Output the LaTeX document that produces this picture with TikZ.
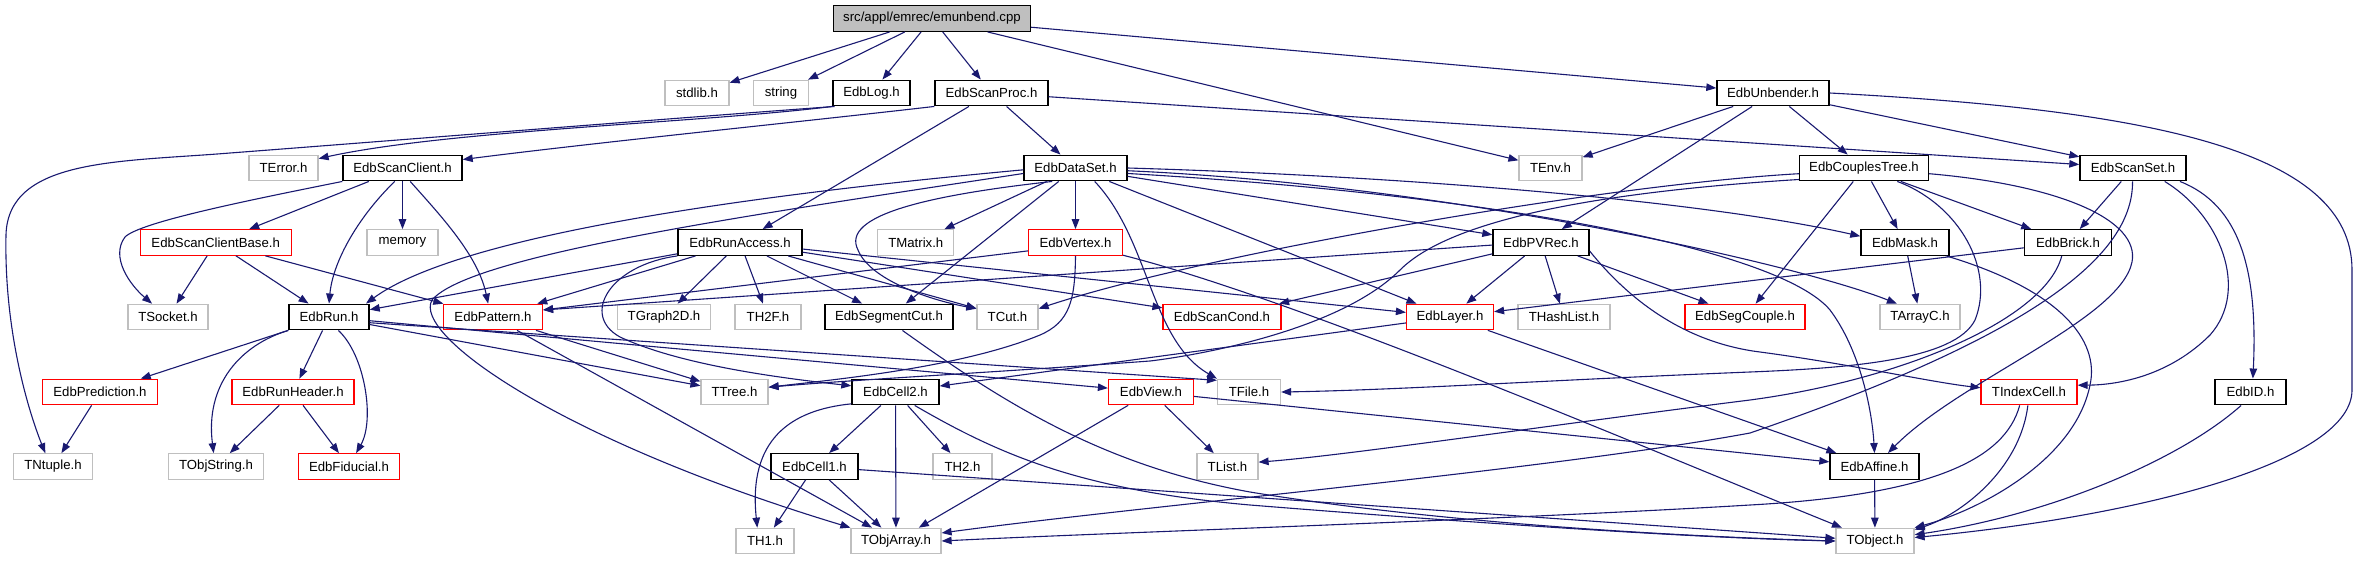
\documentclass[tikz,border=0pt]{standalone}
\usepackage{fontspec}
\setmainfont{Liberation Sans}
\usetikzlibrary{arrows.meta,calc}
\definecolor{edgec}{RGB}{25,25,112}
\definecolor{lg}{RGB}{191,191,191}
\tikzset{
  bx/.style={rectangle, inner sep=0pt, minimum height=25.5pt, line width=1.2pt, fill=white, font=\fontsize{13.2}{15}\selectfont},
  nb/.style={bx, draw=black, line width=1.4pt},
  ng/.style={bx, draw=lg},
  nr/.style={bx, draw=red},
  nroot/.style={bx, draw=black, line width=1.4pt, fill=lg},
  e/.style={draw=edgec, line width=1.1pt, -{Triangle[length=10pt,width=7.5pt]}}
}
\begin{document}
\begin{tikzpicture}[x=1pt,y=-1pt]
\useasboundingbox (0,0) rectangle (2357,560);
% ---- nodes
\node[nroot, minimum width=197pt] (root) at (932,18.5) {src/appl/emrec/emunbend.cpp};
\node[ng, minimum width=64pt] (stdlib) at (697,93) {stdlib.h};
\node[ng, minimum width=55pt] (string) at (781,93) {string};
\node[nb, minimum width=77pt] (Log) at (871.5,93) {EdbLog.h};
\node[nb, minimum width=113pt] (ScanProc) at (991.5,93) {EdbScanProc.h};
\node[nb, minimum width=112pt] (Unbender) at (1773,93) {EdbUnbender.h};
\node[ng, minimum width=69pt] (TError) at (283.5,168) {TError.h};
\node[nb, minimum width=119pt] (ScanClient) at (402.5,168) {EdbScanClient.h};
\node[nb, minimum width=103pt] (DataSet) at (1075.5,168) {EdbDataSet.h};
\node[ng, minimum width=63pt] (TEnv) at (1550.5,168) {TEnv.h};
\node[nb, minimum width=129pt] (CouplesTree) at (1864,168) {EdbCouplesTree.h};
\node[nb, minimum width=106pt] (ScanSet) at (2133,168) {EdbScanSet.h};
\node[nr, minimum width=151pt] (ScanClientBase) at (215.7,242.5) {EdbScanClientBase.h};
\node[ng, minimum width=71pt] (memory) at (402.5,242.5) {memory};
\node[nb, minimum width=124pt] (RunAccess) at (740,242.5) {EdbRunAccess.h};
\node[ng, minimum width=76pt] (TMatrix) at (915.8,242.5) {TMatrix.h};
\node[nr, minimum width=94pt] (Vertex) at (1075.5,242.5) {EdbVertex.h};
\node[nb, minimum width=96pt] (PVRec) at (1541,242.5) {EdbPVRec.h};
\node[nb, minimum width=88pt] (Mask) at (1905,242.5) {EdbMask.h};
\node[nb, minimum width=87pt] (Brick) at (2068,242.5) {EdbBrick.h};
\node[ng, minimum width=80pt] (TSocket) at (168,317) {TSocket.h};
\node[nb, minimum width=80pt] (Run) at (329,317) {EdbRun.h};
\node[nr, minimum width=99pt] (Pattern) at (493,317) {EdbPattern.h};
\node[ng, minimum width=93pt] (TGraph2D) at (664,317) {TGraph2D.h};
\node[ng, minimum width=66pt] (TH2F) at (768,317) {TH2F.h};
\node[nb, minimum width=128pt] (SegmentCut) at (889,317) {EdbSegmentCut.h};
\node[ng, minimum width=61pt] (TCut) at (1007.5,317) {TCut.h};
\node[nr, minimum width=118pt] (ScanCond) at (1222,317) {EdbScanCond.h};
\node[nr, minimum width=87pt] (Layer) at (1450,317) {EdbLayer.h};
\node[ng, minimum width=92pt] (THashList) at (1564,317) {THashList.h};
\node[nr, minimum width=120pt] (SegCouple) at (1745,317) {EdbSegCouple.h};
\node[ng, minimum width=80pt] (TArrayC) at (1920,317) {TArrayC.h};
\node[nr, minimum width=115pt] (Prediction) at (100,392) {EdbPrediction.h};
\node[nr, minimum width=122pt] (RunHeader) at (293,392) {EdbRunHeader.h};
\node[ng, minimum width=67pt] (TTree) at (734.5,392) {TTree.h};
\node[nb, minimum width=87pt] (Cell2) at (895.5,392) {EdbCell2.h};
\node[nr, minimum width=85pt] (View) at (1151,392) {EdbView.h};
\node[ng, minimum width=63pt] (TFile) at (1249,392) {TFile.h};
\node[nr, minimum width=96pt] (TIndexCell) at (2029,392) {TIndexCell.h};
\node[nb, minimum width=71pt] (EdbID) at (2250.5,392) {EdbID.h};
\node[ng, minimum width=79pt] (TNtuple) at (53,466.5) {TNtuple.h};
\node[ng, minimum width=95pt] (TObjString) at (216,466.5) {TObjString.h};
\node[nr, minimum width=101pt] (Fiducial) at (349,466.5) {EdbFiducial.h};
\node[nb, minimum width=87pt] (Cell1) at (814.5,466.5) {EdbCell1.h};
\node[ng, minimum width=59pt] (TH2) at (962.5,466.5) {TH2.h};
\node[ng, minimum width=61pt] (TList) at (1227.5,466.5) {TList.h};
\node[nb, minimum width=89pt] (Affine) at (1874.5,466.5) {EdbAffine.h};
\node[ng, minimum width=58pt] (TH1) at (765,541) {TH1.h};
\node[ng, minimum width=90pt] (TObjArray) at (896,541) {TObjArray.h};
\node[ng, minimum width=78pt] (TObject) at (1875,541) {TObject.h};
% ---- edges
\draw[e] (root) -- (stdlib);
\draw[e] (root) -- (string);
\draw[e] (root) -- (Log);
\draw[e] (root) -- (ScanProc);
\draw[e] (root) -- (TEnv);
\draw[e] (root) -- (Unbender);
\draw[e] (Log.south west) .. controls (700,123) and (450,130) .. (TError.15);
\draw[e] (Log.200) .. controls (650,120) and (400,140) .. (230,153) .. controls (120,162) and (8,158) .. (6,235) .. controls (4,330) and (28,410) .. (TNtuple.120);
\draw[e] (ScanProc.south west) .. controls (800,122) and (600,142) .. (ScanClient.8);
\draw[e] (ScanProc) -- (RunAccess);
\draw[e] (ScanProc) -- (DataSet);
\draw[e] (ScanProc) -- (ScanSet);
\draw[e] (Unbender) -- (TEnv);
\draw[e] (Unbender) -- (PVRec);
\draw[e] (Unbender) -- (CouplesTree);
\draw[e] (Unbender) -- (ScanSet);
\draw[e] (Unbender.east) .. controls (2150,110) and (2352,150) .. (2352,270) -- (2352,390) .. controls (2352,460) and (2150,515) .. (TObject.5);
\draw[e] (ScanClient) -- (ScanClientBase);
\draw[e] (ScanClient) -- (memory);
\draw[e] (ScanClient.south west) .. controls (250,200) and (140,222) .. (125,237) .. controls (110,257) and (130,285) .. (TSocket.140);
\draw[e] (ScanClientBase) -- (TSocket);
\draw[e] (ScanClient.240) .. controls (360,215) and (333,260) .. (Run.north);
\draw[e] (ScanClient.300) .. controls (440,215) and (478,255) .. (Pattern.110);
\draw[e] (ScanClientBase) -- (Run);
\draw[e] (ScanClientBase) -- (Pattern);
\draw[e] (DataSet.182) .. controls (750,195) and (460,235) .. (Run.20);
\draw[e] (DataSet.186) .. controls (750,215) and (470,255) .. (432,300) .. controls (412,335) and (560,440) .. (TObjArray.north west);
\draw[e] (DataSet) -- (TMatrix);
\draw[e] (DataSet) -- (Vertex);
\draw[e] (DataSet) -- (SegmentCut);
\draw[e] (DataSet.210) .. controls (930,195) and (840,215) .. (858,250) .. controls (870,280) and (930,300) .. (TCut.165);
\draw[e] (DataSet.325) .. controls (1150,240) and (1150,340) .. (TFile.north west);
\draw[e] (DataSet) -- (PVRec);
\draw[e] (DataSet) -- (Layer);
\draw[e] (DataSet.east) .. controls (1400,176) and (1700,200) .. (Mask.172);
\draw[e] (DataSet.-3) .. controls (1450,185) and (1800,265) .. (TArrayC.150);
\draw[e] (DataSet.-6) .. controls (1500,195) and (1780,250) .. (1830,310) .. controls (1860,350) and (1872,410) .. (Affine.north);
\draw[e] (RunAccess) -- (Run);
\draw[e] (RunAccess) -- (Pattern);
\draw[e] (RunAccess) -- (TGraph2D);
\draw[e] (RunAccess) -- (TH2F);
\draw[e] (RunAccess) -- (SegmentCut);
\draw[e] (RunAccess) -- (TCut);
\draw[e] (RunAccess) -- (ScanCond);
\draw[e] (RunAccess) -- (Layer);
\draw[e] (RunAccess.south west) .. controls (610,265) and (580,315) .. (620,337) .. controls (680,365) and (780,378) .. (Cell2.172);
\draw[e] (Vertex.190) -- (Pattern.8);
\draw[e] (Vertex.south) .. controls (1075,300) and (1070,322) .. (1040,335) .. controls (960,368) and (830,380) .. (TTree.8);
\draw[e] (Vertex.-15) .. controls (1300,300) and (1650,450) .. (TObject.158);
\draw[e] (PVRec.183) -- (Pattern.8);
\draw[e] (PVRec) -- (ScanCond);
\draw[e] (PVRec) -- (Layer);
\draw[e] (PVRec) -- (THashList);
\draw[e] (PVRec) -- (SegCouple);
\draw[e] (PVRec.-10) .. controls (1625,295) and (1680,342) .. (1760,352) .. controls (1850,364) and (1930,382) .. (TIndexCell.175);
\draw[e] (Layer) -- (Cell2);
\draw[e] (Layer) -- (Affine);
\draw[e] (CouplesTree.185) .. controls (1600,185) and (1200,255) .. (TCut.15);
\draw[e] (CouplesTree.190) .. controls (1550,195) and (1440,230) .. (1400,270) .. controls (1340,330) and (1200,355) .. (1150,361) .. controls (1000,372) and (850,380) .. (TTree.8);
\draw[e] (CouplesTree) -- (Mask);
\draw[e] (CouplesTree) -- (SegCouple);
\draw[e] (CouplesTree) -- (Brick);
\draw[e] (CouplesTree.-22) .. controls (1960,205) and (1995,270) .. (1975,320) .. controls (1955,360) and (1850,368) .. (1750,372) .. controls (1550,380) and (1400,390) .. (TFile.east);
\draw[e] (CouplesTree.-5) .. controls (2060,185) and (2140,220) .. (2132,262) .. controls (2120,320) and (1960,380) .. (Affine.45);
\draw[e] (ScanSet) -- (Brick);
\draw[e] (ScanSet.-92) .. controls (2133,250) and (2050,330) .. (1750,433) .. controls (1550,470) and (1150,505) .. (TObjArray.10);
\draw[e] (ScanSet.-23) .. controls (2220,215) and (2250,290) .. (2210,335) .. controls (2170,375) and (2120,385) .. (TIndexCell.8);
\draw[e] (ScanSet.-16) .. controls (2240,205) and (2258,270) .. (EdbID.80);
\draw[e] (Brick) -- (Layer);
\draw[e] (Brick.-115) .. controls (2045,320) and (1900,380) .. (1750,400) .. controls (1550,425) and (1350,455) .. (TList.8);
\draw[e] (Mask) -- (TArrayC);
\draw[e] (Mask.-18) .. controls (2060,290) and (2100,340) .. (2090,385) .. controls (2075,460) and (1980,510) .. (TObject.north east);
\draw[e] (View) -- (TObjArray);
\draw[e] (View) -- (TList);
\draw[e] (View) -- (Affine);
\draw[e] (Run) -- (Prediction);
\draw[e] (Run.south west) .. controls (240,345) and (205,385) .. (TObjString.100);
\draw[e] (Run) -- (RunHeader);
\draw[e] (Run.-55) .. controls (365,355) and (375,420) .. (Fiducial.62);
\draw[e] (Run) -- (TTree);
\draw[e] (Run.-8) -- (TFile.160);
\draw[e] (Run) -- (View);
\draw[e] (Pattern) -- (TTree);
\draw[e] (Pattern) -- (TObjArray);
\draw[e] (Prediction) -- (TNtuple);
\draw[e] (RunHeader) -- (TObjString);
\draw[e] (RunHeader) -- (Fiducial);
\draw[e] (SegmentCut.-45) .. controls (1000,400) and (1100,465) .. (1250,492) .. controls (1450,525) and (1700,537) .. (TObject.west);
\draw[e] (Cell2) -- (Cell1);
\draw[e] (Cell2.195) .. controls (790,410) and (748,440) .. (TH1.120);
\draw[e] (Cell2) -- (TObjArray);
\draw[e] (Cell2) -- (TH2);
\draw[e] (Cell2.-35) .. controls (1000,455) and (1080,490) .. (1250,505) .. controls (1500,525) and (1700,538) .. (TObject.west);
\draw[e] (Cell1) -- (TH1);
\draw[e] (Cell1) -- (TObjArray);
\draw[e] (Cell1) -- (TObject);
\draw[e] (TIndexCell.-125) .. controls (2005,460) and (1930,495) .. (1750,505) .. controls (1500,520) and (1100,533) .. (TObjArray.east);
\draw[e] (TIndexCell.-95) .. controls (2020,470) and (1960,515) .. (TObject.16);
\draw[e] (EdbID.-125) .. controls (2180,460) and (2050,515) .. (TObject.9);
\draw[e] (Affine) -- (TObject);
\end{tikzpicture}
\end{document}
